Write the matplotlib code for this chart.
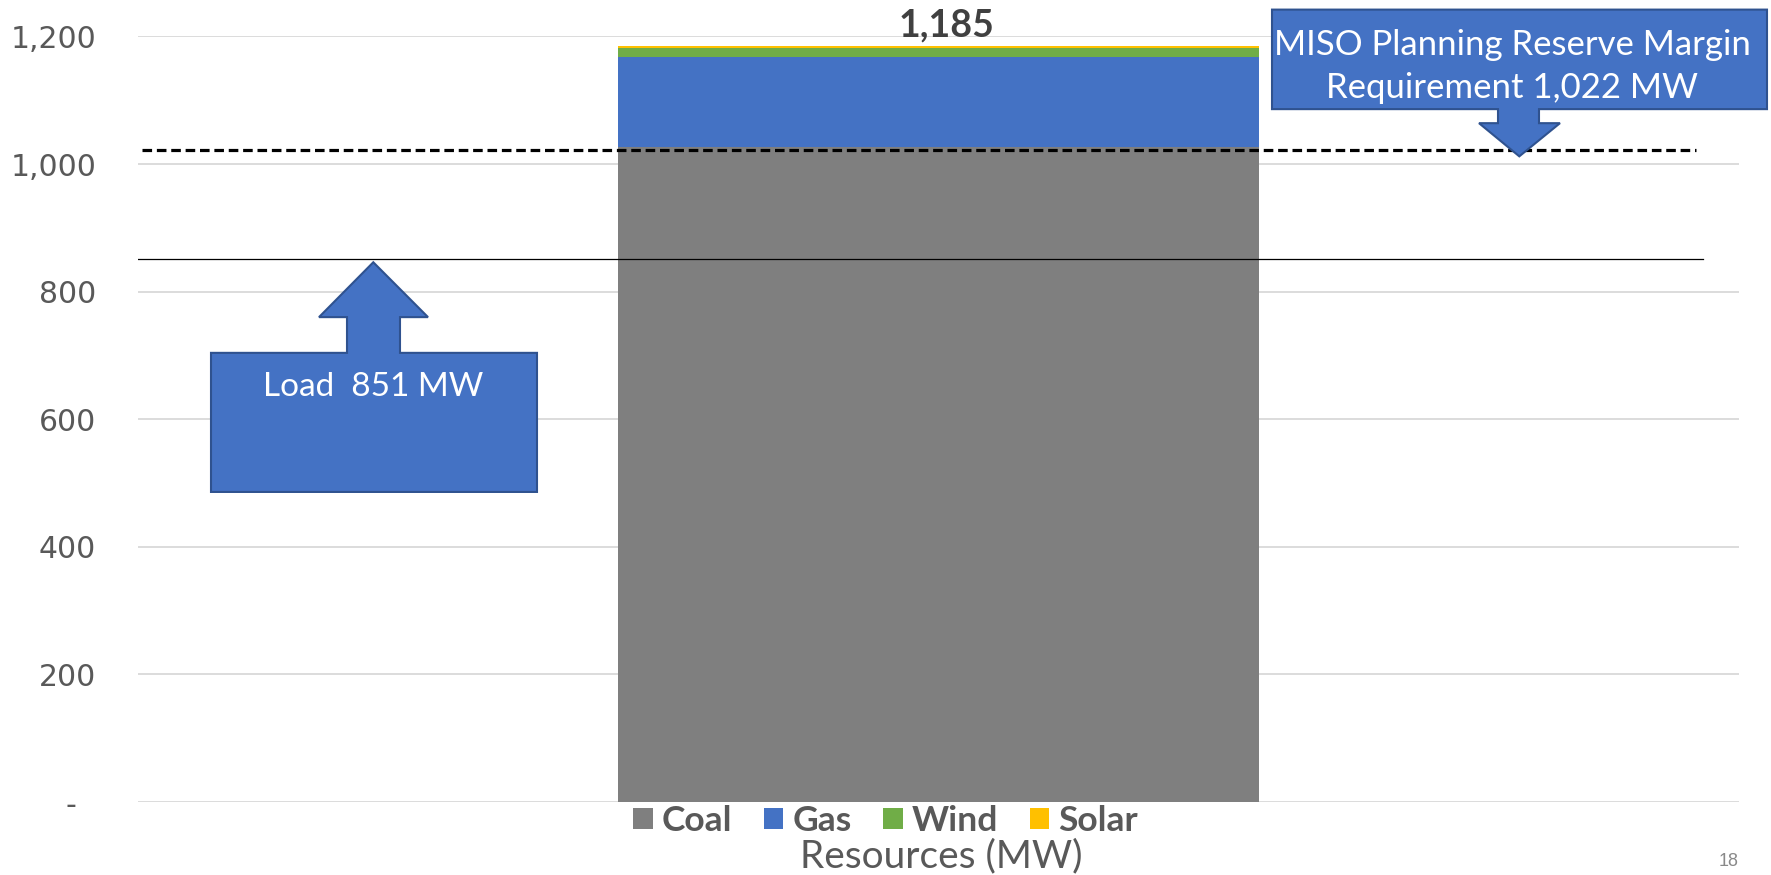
import numpy as np
import matplotlib.pyplot as plt
from matplotlib.patches import Polygon, Patch
from matplotlib.transforms import blended_transform_factory

# capacity stack (MW)
sources = ["Coal", "Gas", "Wind", "Solar"]
capacity = [1027, 140, 15, 3]
colors = ["#7f7f7f", "#4472c4", "#70ad47", "#ffc000"]

load_mw = 851
prm_mw = 1022
yticks = [0, 200, 400, 600, 800, 1000, 1200]

fig = plt.figure(figsize=(17.71, 8.75), dpi=100)
ax = fig.add_axes([0.0779, 0.0834, 0.904, 0.875])

# stacked bar
bottom = 0
for name, val, c in zip(sources, capacity, colors):
    ax.bar(0, val, width=0.4, bottom=bottom, color=c, label=name, zorder=2)
    bottom += val
total = sum(capacity)
ax.text(0.005, total + 6, f"{total:,}", ha="center", va="bottom",
        fontsize=27, fontweight="bold", family="Lato", color="#404040")

ax.set_xlim(-0.5, 0.5)
ax.set_ylim(0, 1200)
ax.set_yticks(yticks)
ax.set_yticklabels([f"{v:,}" if v else "-  " for v in yticks],
                   family="DejaVu Sans", fontsize=21.5, color="#595959")
ax.set_xticks([])
ax.tick_params(axis="y", length=0, pad=30)
for s in ax.spines.values():
    s.set_visible(False)
ax.yaxis.grid(True, color="#d9d9d9", lw=1.3, zorder=0)
ax.set_axisbelow(True)

# load and reserve lines
ax.axhline(load_mw, xmin=0, xmax=0.9775, color="black", lw=0.9, zorder=3)
ax.axhline(prm_mw, xmin=0.0025, xmax=0.973, color="black", lw=2.3,
           dashes=(3.0, 1.5), zorder=3)

# callout shapes: x in figure pixels, y in data units
tr = blended_transform_factory(fig.transFigure, ax.transData)
W = 1771.0


def callout(pts, tr):
    pts = [(x / W, y) for x, y in pts]
    p = Polygon(pts, closed=True, facecolor="#4472c4", edgecolor="#2f528f",
                lw=1.5, transform=tr, clip_on=False, zorder=4)
    fig.add_artist(p)


tip = load_mw - 5
callout([(211, 486), (537, 486), (537, 704), (400, 704), (400, tip - 86),
         (428, tip - 86), (373.3, tip), (319, tip - 86), (347, tip - 86),
         (347, 704), (211, 704)], tr)
fig.text(372.7 / W, 1 - 386.7 / 875, "Load  851 MW", ha="center", va="center",
         fontsize=24, family="Lato", color="white", zorder=5)

tip2 = prm_mw - 10
callout([(1272, 1242), (1767, 1242), (1767, 1086), (1539, 1086),
         (1539, 1064), (1560, 1064), (1519.3, tip2), (1479, 1064),
         (1498, 1064), (1498, 1086), (1272, 1086)], tr)
fig.text(1512.5 / W, 1 - 45 / 875, "MISO Planning Reserve Margin",
         ha="center", va="center", fontsize=25, family="Lato", color="white", zorder=5)
fig.text(1512.5 / W, 1 - 88 / 875, "Requirement 1,022 MW",
         ha="center", va="center", fontsize=25, family="Lato", color="white", zorder=5)

# legend and axis title
handles = [Patch(facecolor=c, edgecolor="none") for c in colors]
fig.legend(handles, sources, loc="center", bbox_to_anchor=(0.5, 0.062), ncol=4,
           frameon=False, handlelength=0.55, handleheight=0.55, handletextpad=0.25,
           columnspacing=0.9, borderpad=0,
           prop={"family": "Lato", "weight": "bold", "size": 25.5},
           labelcolor="#595959")
fig.text(941 / W, 1 - 856 / 875, "Resources (MW)", ha="center", va="center",
         fontsize=28, family="Lato", color="#595959")

fig.text(1739 / W, 1 - 861 / 875, "18", ha="right", va="center",
         fontsize=13, family="Liberation Sans", color="#898989")

fig.savefig("out.png", dpi=100)
